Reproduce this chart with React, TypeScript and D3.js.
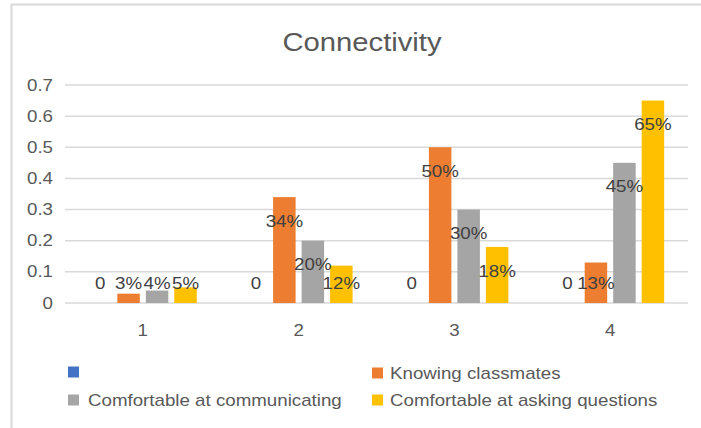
import * as d3 from "d3";
import {useEffect, useRef} from "react";

const categories = ["1", "2", "3", "4"];
const seriesNames = ["", "Knowing classmates", "Comfortable at communicating", "Comfortable at asking questions"];
const seriesColors = ["#4472C4", "#ED7D31", "#A5A5A5", "#FFC000"];
const blankSeries = [0, 0, 0, 0];
const knowingClassmates = [0.03, 0.34, 0.50, 0.13];
const comfortableCommunicating = [0.04, 0.20, 0.30, 0.45];
const comfortableAsking = [0.05, 0.12, 0.18, 0.65];
const yTicks = [0, 0.1, 0.2, 0.3, 0.4, 0.5, 0.6, 0.7];

const WIDTH = 701;
const HEIGHT = 428;
const STRETCH = 1.17; // the picture is a bit wider than tall, text looks stretched

const App = () => {
    const svgRef = useRef(null);

    useEffect(() => {
        if (!svgRef.current) return;
        const svg = d3.select(svgRef.current);
        svg.selectAll("*").remove();

        const values = [blankSeries, knowingClassmates, comfortableCommunicating, comfortableAsking];
        const font = "'Liberation Sans', Arial, Helvetica, sans-serif";

        // helper: place a text with horizontal stretch
        const text = (g: any, x: number, y: number, str: string, size: number, anchor: string, fill: string) =>
            g.append("text")
                .attr("transform", `translate(${x},${y}) scale(${STRETCH},1)`)
                .attr("text-anchor", anchor)
                .attr("dy", "0.35em")
                .attr("font-family", font)
                .attr("font-size", size)
                .attr("fill", fill)
                .text(str);

        // chart frame (only top and left edges are visible)
        svg.append("path")
            .attr("d", `M11.5,${HEIGHT} V4.5 H${WIDTH}`)
            .attr("fill", "none")
            .attr("stroke", "#d9d9d9")
            .attr("stroke-width", 2);

        const yScale = d3.scaleLinear().domain([0, 0.7]).range([303, 85]);
        const x0 = d3.scaleBand().domain(categories).range([65, 688]).paddingInner(0.307).paddingOuter(0.153);
        const x1 = d3.scaleBand().domain(seriesNames.map((_, i) => String(i))).range([0, x0.bandwidth()]).paddingInner(0.21);

        // title
        text(svg, 362, 42, "Connectivity", 25, "middle", "#595959");

        // gridlines
        svg.append("g")
            .selectAll("line")
            .data(yTicks)
            .enter()
            .append("line")
            .attr("x1", 65)
            .attr("x2", 688)
            .attr("y1", d => yScale(d))
            .attr("y2", d => yScale(d))
            .attr("stroke", "#d9d9d9")
            .attr("stroke-width", 1.5);

        // y tick labels
        const yAxis = svg.append("g");
        yTicks.forEach(t => text(yAxis, 53, yScale(t), t === 0 ? "0" : t.toFixed(1), 16, "end", "#595959"));

        // x category labels
        const xAxis = svg.append("g");
        categories.forEach(c => text(xAxis, x0(c)! + x0.bandwidth() / 2, 330, c, 16, "middle", "#595959"));

        // bars
        const bars = svg.append("g");
        categories.forEach((c, ci) => {
            values.forEach((series, si) => {
                const v = series[ci];
                const x = x0(c)! + x1(String(si))!;
                bars.append("rect")
                    .attr("x", x)
                    .attr("y", yScale(v))
                    .attr("width", x1.bandwidth())
                    .attr("height", yScale(0) - yScale(v))
                    .attr("fill", seriesColors[si]);
            });
        });

        // data labels
        const labels = svg.append("g");
        categories.forEach((c, ci) => {
            values.forEach((series, si) => {
                const v = series[ci];
                const cx = x0(c)! + x1(String(si))! + x1.bandwidth() / 2;
                const ly = Math.min(yScale(v) + 24, yScale(0) - 20);
                const str = si === 0 ? "0" : `${Math.round(v * 100)}%`;
                text(labels, cx, ly, str, 16, "middle", "#404040");
            });
        });

        // legend
        const legend = svg.append("g");
        const legendPos = [
            {sx: 68, tx: 88, y: 372},
            {sx: 372, tx: 390, y: 373},
            {sx: 68, tx: 88, y: 400},
            {sx: 372, tx: 390, y: 400},
        ];
        seriesNames.forEach((name, i) => {
            const p = legendPos[i];
            legend.append("rect")
                .attr("x", p.sx)
                .attr("y", p.y - 5.5)
                .attr("width", 11)
                .attr("height", 11)
                .attr("fill", seriesColors[i]);
            if (name) text(legend, p.tx, p.y, name, 16, "start", "#595959");
        });
    }, []);

    return <svg ref={svgRef} width={WIDTH} height={HEIGHT}
                style={{position: "absolute", left: 0, top: 0, background: "#fff"}}></svg>;
};

export default App;
